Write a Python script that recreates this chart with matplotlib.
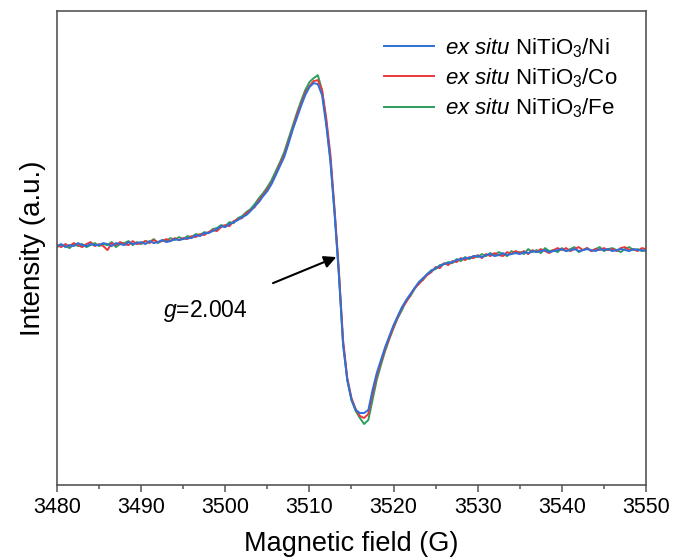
import numpy as np
import matplotlib
matplotlib.use('Agg')
import matplotlib.pyplot as plt
from matplotlib.ticker import MultipleLocator

plt.rcParams['font.family'] = ['Liberation Sans', 'DejaVu Sans']
plt.rcParams['mathtext.fontset'] = 'custom'
plt.rcParams['mathtext.rm'] = 'Liberation Sans'
plt.rcParams['mathtext.it'] = 'Liberation Sans:italic'

# magnetic field (G), 0.5 G steps
field = np.arange(3480, 3550.01, 0.5)

# intensities (a.u.)
ni = [4, 6, 3, 5, 4, 7, 5, 4, 6, 5,
      5, 7, 6, 4, 7, 6, 5, 8, 6, 7,
      8, 6, 9, 7, 8, 10, 8, 9, 11, 10,
      11, 12, 12, 15, 14, 17, 17, 19, 21, 24,
      23, 26, 28, 30, 33, 35, 39, 44, 48, 54,
      59, 66, 75, 84, 93, 106, 120, 132, 144, 155,
      163, 167, 166, 155, 125, 88, 35, -25, -95, -130,
      -150, -160, -163, -163, -160, -140, -123, -110, -97, -86,
      -75, -66, -57, -50, -44, -38, -32, -28, -24, -21,
      -18, -16, -14, -13, -12, -10, -9, -8, -8, -6,
      -6, -7, -5, -4, -6, -5, -3, -5, -4, -3,
      -4, -2, -3, -1, -2, -1, 0, -2, -1, 0,
      1, -1, 0, 1, -1, 0, 1, 0, -1, 1,
      0, 1, -1, 0, 1, 0, -1, 1, 0, 0,
      -1]

co = [5, 3, 6, 4, 7, 5, 3, 6, 8, 4,
      6, 4, 0, 7, 5, 8, 6, 5, 9, 6,
      7, 9, 7, 10, 8, 9, 11, 9, 12, 10,
      12, 11, 14, 13, 16, 15, 18, 20, 19, 23,
      25, 24, 29, 31, 32, 37, 40, 43, 50, 55,
      61, 67, 76, 86, 95, 108, 121, 135, 146, 157,
      164, 169, 170, 160, 132, 95, 40, -20, -90, -128,
      -148, -159, -166, -168, -164, -144, -126, -112, -99, -88,
      -77, -67, -58, -52, -45, -38, -34, -29, -25, -22,
      -17, -18, -13, -15, -11, -12, -8, -10, -7, -8,
      -5, -8, -4, -6, -3, -5, -6, -2, -4, -1,
      -3, -1, -4, 0, -2, 1, -1, -3, 0, 2,
      0, 2, -1, 1, 3, 0, 2, -1, 1, 0,
      2, 0, 1, -1, 2, 3, 0, 1, -1, 2,
      1]

fe = [3, 5, 4, 2, 6, 4, 6, 3, 5, 7,
      4, 6, 5, 8, 3, 6, 7, 9, 5, 8,
      6, 9, 8, 11, 7, 10, 9, 12, 10, 13,
      11, 14, 13, 16, 15, 18, 17, 21, 22, 25,
      24, 28, 27, 32, 34, 38, 41, 46, 52, 57,
      63, 70, 79, 88, 98, 111, 124, 137, 149, 160,
      168, 172, 175, 160, 128, 90, 37, -23, -93, -130,
      -150, -161, -168, -174, -170, -150, -130, -115, -101, -89,
      -78, -68, -60, -51, -46, -39, -33, -30, -24, -20,
      -19, -15, -14, -12, -13, -9, -11, -7, -9, -6,
      -7, -4, -6, -3, -5, -2, -4, -6, -1, -3,
      -2, -4, 1, -2, 0, -3, 2, -1, 0, -2,
      2, -1, 1, 3, -2, 0, 2, -1, 1, 3,
      -1, 1, 2, 0, -2, 1, 3, 0, 1, -1,
      0]

labels = [r'$\mathit{ex\ situ}$ NiTiO$_3$/Ni',
          r'$\mathit{ex\ situ}$ NiTiO$_3$/Co',
          r'$\mathit{ex\ situ}$ NiTiO$_3$/Fe']
colors = ['#2f6fd8', '#e8383d', '#2e9e5b']

fig = plt.figure(figsize=(6.8, 5.59), dpi=100)
ax = fig.add_axes([0.0838, 0.1324, 0.8662, 0.8476])

# draw green, red, then blue on top
lFe, = ax.plot(field, fe, color=colors[2], lw=1.4)
lCo, = ax.plot(field, co, color=colors[1], lw=1.4)
lNi, = ax.plot(field, ni, color=colors[0], lw=1.4)

ax.set_xlim(3480, 3550)
ax.set_ylim(-235, 239)
ax.set_yticks([])
ax.xaxis.set_major_locator(MultipleLocator(10))
ax.xaxis.set_minor_locator(MultipleLocator(5))
ax.tick_params(axis='x', which='major', direction='out', length=5, width=1.1,
               labelsize=15.5, color='#555555', pad=4)
ax.tick_params(axis='x', which='minor', direction='out', length=3, width=1.1,
               color='#555555')
for s in ax.spines.values():
    s.set_color('#555555')
    s.set_linewidth(1.2)

ax.set_xlabel('Magnetic field (G)', fontsize=19.5, labelpad=9)
ax.set_ylabel('Intensity (a.u.)', fontsize=20, labelpad=8)

ax.legend([lNi, lCo, lFe], labels, loc='upper right', frameon=False,
          fontsize=16, handlelength=2.25, handletextpad=0.5, labelspacing=0.3,
          bbox_to_anchor=(0.986, 0.99))

ax.annotate(r'$\mathit{g}$=2.004', xy=(3513.2, -7), xytext=(3497.6, -61),
            fontsize=16.5, ha='center', va='center',
            arrowprops=dict(arrowstyle='-|>', color='black', lw=1.5,
                            mutation_scale=18, shrinkA=23, shrinkB=0))

fig.savefig('out.png', dpi=100)
